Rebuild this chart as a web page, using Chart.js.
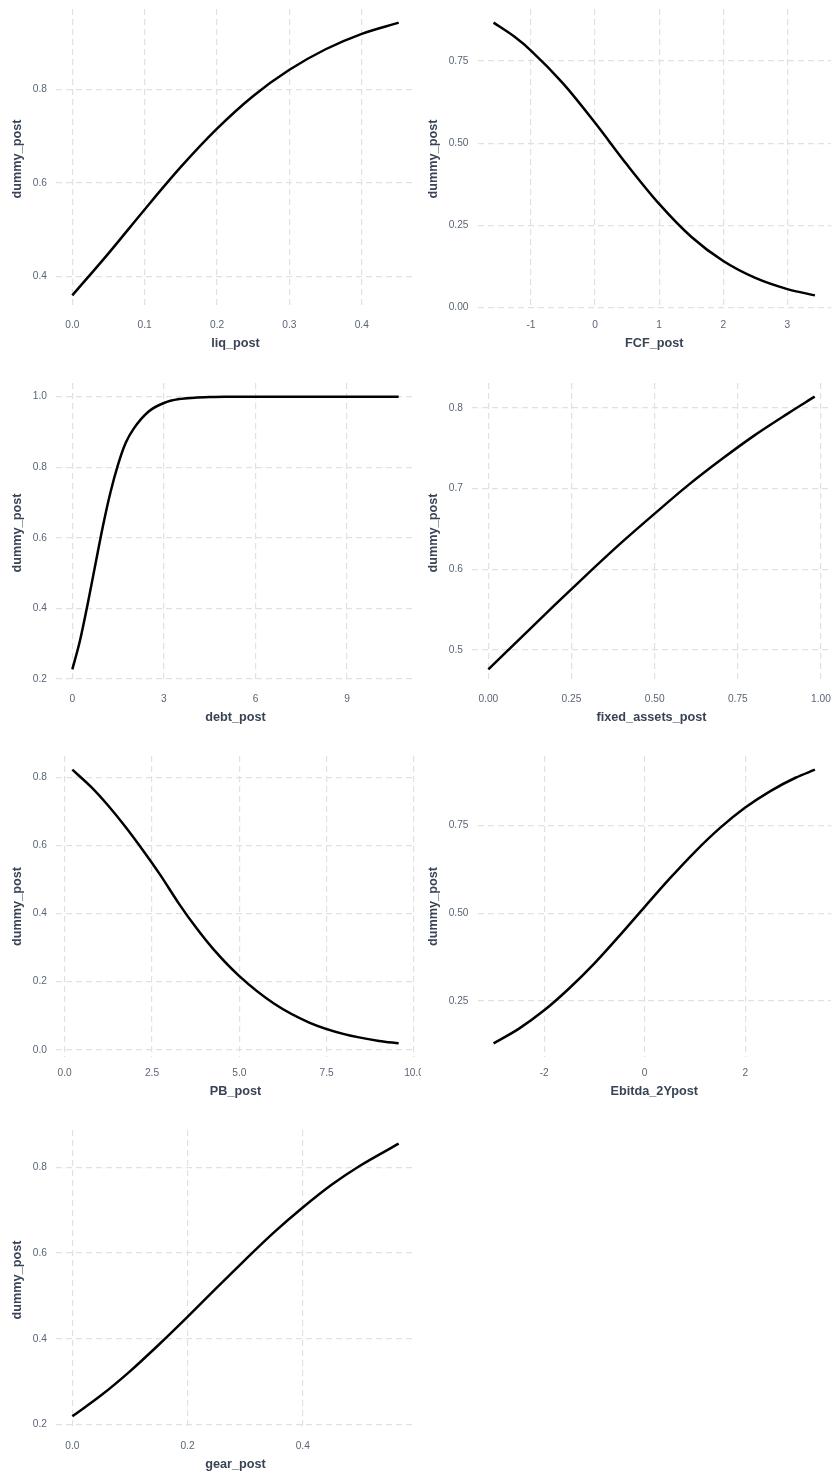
<!DOCTYPE html>
<html><head><meta charset="utf-8">
<script src="https://cdn.jsdelivr.net/npm/chart.js@4.4.1/dist/chart.umd.min.js"></script>
<style>
html,body{margin:0;padding:0;background:#fff;width:832px;height:1474px;overflow:hidden;position:relative}
canvas{position:absolute}
</style></head><body>
<script>
const yTitle = 'dummy_post';

// liq_post
const liqX = [0, 0.05, 0.1, 0.15, 0.2, 0.25, 0.3, 0.35, 0.4, 0.451];
const liqY = [0.359, 0.449, 0.543, 0.634, 0.716, 0.786, 0.842, 0.886, 0.919, 0.943];
const liqXTicks = [0, 0.1, 0.2, 0.3, 0.4];
const liqXLabels = ['0.0', '0.1', '0.2', '0.3', '0.4'];
const liqYTicks = [0.4, 0.6, 0.8];
const liqYLabels = ['0.4', '0.6', '0.8'];

// FCF_post
const fcfX = [-1.583, -1.25, -1, -0.5, 0, 0.5, 1, 1.5, 2, 2.5, 3, 3.43];
const fcfY = [0.867, 0.823, 0.782, 0.682, 0.562, 0.434, 0.315, 0.215, 0.141, 0.0896, 0.0556, 0.0365];
const fcfXTicks = [-1, 0, 1, 2, 3];
const fcfXLabels = ['-1', '0', '1', '2', '3'];
const fcfYTicks = [0, 0.25, 0.5, 0.75];
const fcfYLabels = ['0.00', '0.25', '0.50', '0.75'];

// debt_post
const debtX = [0, 0.25, 0.5, 0.75, 1, 1.25, 1.5, 1.75, 2, 2.5, 3, 3.5, 4, 4.5, 5, 6, 8, 10.69];
const debtY = [0.227, 0.308, 0.411, 0.522, 0.632, 0.729, 0.808, 0.869, 0.908, 0.958, 0.982, 0.993, 0.997, 0.999, 1.0, 1.0, 1.0, 1.0];
const debtXTicks = [0, 3, 6, 9];
const debtXLabels = ['0', '3', '6', '9'];
const debtYTicks = [0.2, 0.4, 0.6, 0.8, 1.0];
const debtYLabels = ['0.2', '0.4', '0.6', '0.8', '1.0'];

// fixed_assets_post
const faX = [0, 0.1, 0.2, 0.3, 0.4, 0.5, 0.6, 0.7, 0.8, 0.9, 0.981];
const faY = [0.476, 0.516, 0.556, 0.595, 0.633, 0.669, 0.704, 0.736, 0.766, 0.793, 0.814];
const faXTicks = [0, 0.25, 0.5, 0.75, 1.0];
const faXLabels = ['0.00', '0.25', '0.50', '0.75', '1.00'];
const faYTicks = [0.5, 0.6, 0.7, 0.8];
const faYLabels = ['0.5', '0.6', '0.7', '0.8'];

// PB_post
const pbX = [0.22, 0.75, 1.25, 1.75, 2.25, 2.75, 3.25, 3.75, 4.25, 5, 6, 7, 8, 9, 9.56];
const pbY = [0.822, 0.772, 0.716, 0.653, 0.584, 0.511, 0.432, 0.360, 0.296, 0.216, 0.135, 0.080, 0.046, 0.026, 0.019];
const pbXTicks = [0, 2.5, 5, 7.5, 10];
const pbXLabels = ['0.0', '2.5', '5.0', '7.5', '10.0'];
const pbYTicks = [0, 0.2, 0.4, 0.6, 0.8];
const pbYLabels = ['0.0', '0.2', '0.4', '0.6', '0.8'];

// Ebitda_2Ypost
const ebX = [-3.007, -2.5, -2, -1.5, -1, -0.5, 0, 0.5, 1, 1.5, 2, 2.5, 3, 3.387];
const ebY = [0.129, 0.171, 0.223, 0.286, 0.357, 0.436, 0.518, 0.599, 0.675, 0.743, 0.801, 0.848, 0.886, 0.909];
const ebXTicks = [-2, 0, 2];
const ebXLabels = ['-2', '0', '2'];
const ebYTicks = [0.25, 0.5, 0.75];
const ebYLabels = ['0.25', '0.50', '0.75'];

// gear_post
const gearX = [0, 0.05, 0.1, 0.15, 0.2, 0.25, 0.3, 0.35, 0.4, 0.45, 0.5, 0.5665];
const gearY = [0.219, 0.268, 0.324, 0.386, 0.451, 0.518, 0.584, 0.648, 0.706, 0.759, 0.804, 0.855];
const gearXTicks = [0, 0.2, 0.4];
const gearXLabels = ['0.0', '0.2', '0.4'];
const gearYTicks = [0.2, 0.4, 0.6, 0.8];
const gearYLabels = ['0.2', '0.4', '0.6', '0.8'];

const FONT = "'Liberation Sans', Arial, Helvetica, sans-serif";
const tickColor = '#5a6575';
const titleColor = '#384455';
const gridColor = '#e1e1e1';

const panels = [
  {x: liqX, y: liqY, t: 'liq_post', xt: liqXTicks, xl: liqXLabels, yt: liqYTicks, yl: liqYLabels, left: 0, w: 421, yw: 56, plotTop: 9, plotH: 300, padR: 6},
  {x: fcfX, y: fcfY, t: 'FCF_post', xt: fcfXTicks, xl: fcfXLabels, yt: fcfYTicks, yl: fcfYLabels, left: 416, w: 416, yw: 61.5, plotTop: 9, plotH: 300, padR: 1},
  {x: debtX, y: debtY, t: 'debt_post', xt: debtXTicks, xl: debtXLabels, yt: debtYTicks, yl: debtYLabels, left: 0, w: 421, yw: 56, plotTop: 383, plotH: 300, padR: 6},
  {x: faX, y: faY, t: 'fixed_assets_post', xt: faXTicks, xl: faXLabels, yt: faYTicks, yl: faYLabels, left: 416, w: 416, yw: 56, plotTop: 383, plotH: 300, padR: 1},
  {x: pbX, y: pbY, t: 'PB_post', xt: pbXTicks, xl: pbXLabels, yt: pbYTicks, yl: pbYLabels, left: 0, w: 421, yw: 56, plotTop: 756, plotH: 301, padR: 6},
  {x: ebX, y: ebY, t: 'Ebitda_2Ypost', xt: ebXTicks, xl: ebXLabels, yt: ebYTicks, yl: ebYLabels, left: 416, w: 416, yw: 61.5, plotTop: 756, plotH: 301, padR: 1},
  {x: gearX, y: gearY, t: 'gear_post', xt: gearXTicks, xl: gearXLabels, yt: gearYTicks, yl: gearYLabels, left: 0, w: 421, yw: 56, plotTop: 1130, plotH: 300, padR: 6}
];

const PAD_TOP = 9, XAXIS_H = 47;

panels.forEach(p => {
  const c = document.createElement('canvas');
  const h = PAD_TOP + p.plotH + XAXIS_H;
  c.width = p.w; c.height = h;
  c.style.left = p.left + 'px';
  c.style.top = (p.plotTop - PAD_TOP) + 'px';
  c.style.width = p.w + 'px';
  c.style.height = h + 'px';
  document.body.appendChild(c);

  const xmin = Math.min(...p.x), xmax = Math.max(...p.x);
  const ymin = Math.min(...p.y), ymax = Math.max(...p.y);
  const dx = (xmax - xmin) * 0.05, dy = (ymax - ymin) * 0.05;

  new Chart(c, {
    type: 'line',
    data: {
      datasets: [{
        data: p.x.map((v, i) => ({x: v, y: p.y[i]})),
        borderColor: '#000000',
        borderWidth: 2.5,
        pointRadius: 0,
        pointHoverRadius: 0,
        fill: false,
        cubicInterpolationMode: 'monotone'
      }]
    },
    options: {
      responsive: false,
      animation: false,
      devicePixelRatio: 1,
      layout: {padding: {top: PAD_TOP, right: p.padR, bottom: 0, left: 0}},
      plugins: {legend: {display: false}, tooltip: {enabled: false}},
      events: [],
      scales: {
        x: {
          type: 'linear',
          min: xmin - dx, max: xmax + dx,
          afterBuildTicks: s => { s.ticks = p.xt.map(v => ({value: v})); },
          afterFit: s => { s.height = XAXIS_H; s.paddingLeft = 0; s.paddingRight = 0; },
          ticks: {
            autoSkip: false, maxRotation: 0, minRotation: 0, padding: 10,
            color: tickColor, font: {family: FONT, size: 10.2},
            callback: (v, i) => p.xl[i]
          },
          grid: {color: gridColor, lineWidth: 1.2, drawTicks: false},
          border: {display: false, dash: [6, 4]},
          title: {
            display: true, text: p.t, color: titleColor,
            font: {family: FONT, size: 12.7, weight: 'bold'},
            padding: {top: 0, bottom: 4.4}
          }
        },
        y: {
          type: 'linear',
          min: ymin - dy, max: ymax + dy,
          afterBuildTicks: s => { s.ticks = p.yt.map(v => ({value: v})); },
          afterFit: s => { s.width = p.yw; s.paddingTop = 0; s.paddingBottom = 0; },
          ticks: {
            autoSkip: false, padding: 9,
            color: tickColor, font: {family: FONT, size: 10.2},
            callback: (v, i) => p.yl[i]
          },
          grid: {color: gridColor, lineWidth: 1.2, drawTicks: false},
          border: {display: false, dash: [6, 4]},
          title: {
            display: true, text: yTitle, color: titleColor,
            font: {family: FONT, size: 12.7, weight: 'bold'},
            padding: {top: 9.4, bottom: 0}
          }
        }
      }
    }
  });
});
</script>
</body></html>
